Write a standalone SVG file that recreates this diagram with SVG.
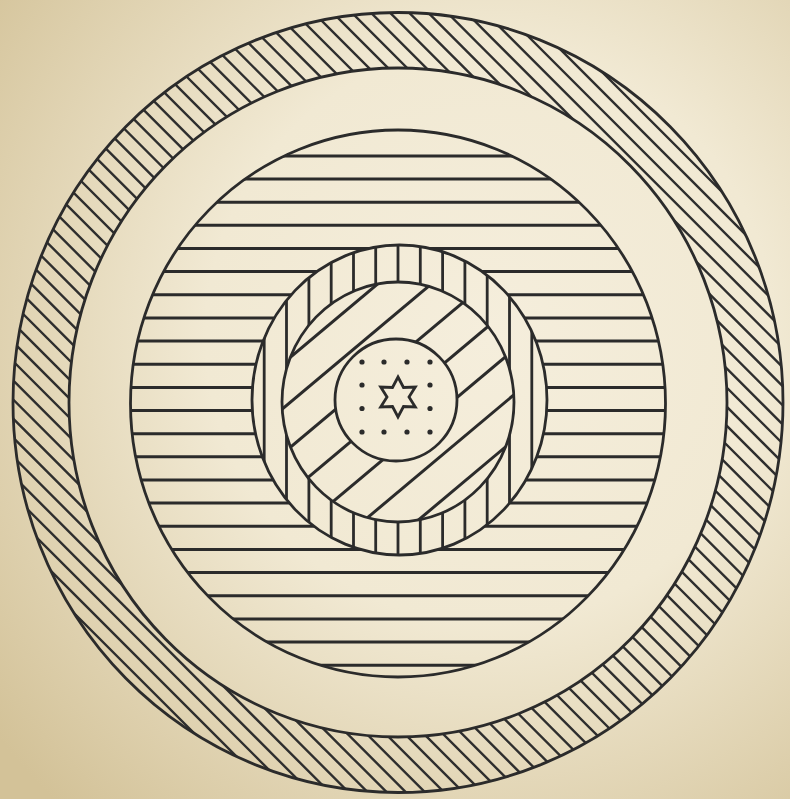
<svg xmlns="http://www.w3.org/2000/svg" width="790" height="799" viewBox="0 0 790 799">
<defs>
<radialGradient id="bg" cx="0.62" cy="0.42" r="0.8">
<stop offset="0" stop-color="#f5eedc"/>
<stop offset="0.45" stop-color="#f1e9d3"/>
<stop offset="1" stop-color="#d3c298"/>
</radialGradient>
<mask id="maskOuterRing" maskUnits="userSpaceOnUse" x="0" y="0" width="790" height="799">
<ellipse cx="398" cy="402.5" rx="385" ry="390" fill="#fff"/>
<ellipse cx="398" cy="402.5" rx="329" ry="334.5" fill="#000"/>
</mask>
<mask id="maskHoriz" maskUnits="userSpaceOnUse" x="0" y="0" width="790" height="799">
<ellipse cx="398" cy="403.5" rx="267.5" ry="273.5" fill="#fff"/>
<ellipse cx="399.5" cy="400" rx="147.5" ry="155" fill="#000"/>
</mask>
<mask id="maskVert" maskUnits="userSpaceOnUse" x="0" y="0" width="790" height="799">
<ellipse cx="399.5" cy="400" rx="147.5" ry="155" fill="#fff"/>
<ellipse cx="398" cy="402" rx="116" ry="120" fill="#000"/>
</mask>
<mask id="maskDiag" maskUnits="userSpaceOnUse" x="0" y="0" width="790" height="799">
<ellipse cx="398" cy="402" rx="116" ry="120" fill="#fff"/>
<circle cx="396" cy="400" r="61" fill="#000"/>
</mask>
<style>
.edge{fill:none;stroke:#2b2b2b;stroke-width:2.8}
.hatch{fill:none;stroke:#2e2e2e;stroke-width:2.4}
.h{stroke:#2b2b2b;stroke-width:3}
.v{stroke:#2b2b2b;stroke-width:2.8}
.d{stroke:#2b2b2b;stroke-width:3}
.dot{fill:#2b2b2b}
</style>
</defs>
<rect width="790" height="799" fill="url(#bg)"/>

<g id="outer-ring">
<g mask="url(#maskOuterRing)">
<path class="hatch" transform="translate(398,402.5) rotate(45)" d="M-420,-391.5h840M-420,-378h840M-420,-364.5h840M-420,-351h840M-420,-337.5h840M-420,-324h840M-420,-310.5h840M-420,-297h840M-420,-283.5h840M-420,-270h840M-420,-256.5h840M-420,-243h840M-420,-229.5h840M-420,-216h840M-420,-202.5h840M-420,-189h840M-420,-175.5h840M-420,-162h840M-420,-148.5h840M-420,-135h840M-420,-121.5h840M-420,-108h840M-420,-94.5h840M-420,-81h840M-420,-67.5h840M-420,-54h840M-420,-40.5h840M-420,-27h840M-420,-13.5h840M-420,0h840M-420,13.5h840M-420,27h840M-420,40.5h840M-420,54h840M-420,67.5h840M-420,81h840M-420,94.5h840M-420,108h840M-420,121.5h840M-420,135h840M-420,148.5h840M-420,162h840M-420,175.5h840M-420,189h840M-420,202.5h840M-420,216h840M-420,229.5h840M-420,243h840M-420,256.5h840M-420,270h840M-420,283.5h840M-420,297h840M-420,310.5h840M-420,324h840M-420,337.5h840M-420,351h840M-420,364.5h840M-420,378h840M-420,391.5h840"/>
</g>
<ellipse class="edge" cx="398" cy="402.5" rx="385" ry="390"/>
<ellipse class="edge" cx="398" cy="402.5" rx="329" ry="334.5"/>
</g>

<g id="horizontal-disc">
<g mask="url(#maskHoriz)">
<line class="h" x1="120" x2="680" y1="665.2" y2="665.2"/>
<line class="h" x1="120" x2="680" y1="642" y2="642"/>
<line class="h" x1="120" x2="680" y1="618.9" y2="618.9"/>
<line class="h" x1="120" x2="680" y1="595.7" y2="595.7"/>
<line class="h" x1="120" x2="680" y1="572.6" y2="572.6"/>
<line class="h" x1="120" x2="680" y1="549.4" y2="549.4"/>
<line class="h" x1="120" x2="680" y1="526.3" y2="526.3"/>
<line class="h" x1="120" x2="680" y1="503.1" y2="503.1"/>
<line class="h" x1="120" x2="680" y1="480" y2="480"/>
<line class="h" x1="120" x2="680" y1="456.8" y2="456.8"/>
<line class="h" x1="120" x2="680" y1="433.7" y2="433.7"/>
<line class="h" x1="120" x2="680" y1="410.5" y2="410.5"/>
<line class="h" x1="120" x2="680" y1="387.4" y2="387.4"/>
<line class="h" x1="120" x2="680" y1="364.2" y2="364.2"/>
<line class="h" x1="120" x2="680" y1="341.1" y2="341.1"/>
<line class="h" x1="120" x2="680" y1="317.9" y2="317.9"/>
<line class="h" x1="120" x2="680" y1="294.8" y2="294.8"/>
<line class="h" x1="120" x2="680" y1="271.6" y2="271.6"/>
<line class="h" x1="120" x2="680" y1="248.5" y2="248.5"/>
<line class="h" x1="120" x2="680" y1="225.3" y2="225.3"/>
<line class="h" x1="120" x2="680" y1="202.2" y2="202.2"/>
<line class="h" x1="120" x2="680" y1="179" y2="179"/>
<line class="h" x1="120" x2="680" y1="155.9" y2="155.9"/>
</g>
<ellipse class="edge" cx="398" cy="403.5" rx="267.5" ry="273.5"/>
</g>

<g id="vertical-ring">
<g mask="url(#maskVert)">
<line class="v" x1="264.2" x2="264.2" y1="230" y2="570"/>
<line class="v" x1="286.5" x2="286.5" y1="230" y2="570"/>
<line class="v" x1="308.9" x2="308.9" y1="230" y2="570"/>
<line class="v" x1="331.2" x2="331.2" y1="230" y2="570"/>
<line class="v" x1="353.5" x2="353.5" y1="230" y2="570"/>
<line class="v" x1="375.7" x2="375.7" y1="230" y2="570"/>
<line class="v" x1="398" x2="398" y1="230" y2="570"/>
<line class="v" x1="420.3" x2="420.3" y1="230" y2="570"/>
<line class="v" x1="442.6" x2="442.6" y1="230" y2="570"/>
<line class="v" x1="464.9" x2="464.9" y1="230" y2="570"/>
<line class="v" x1="487.2" x2="487.2" y1="230" y2="570"/>
<line class="v" x1="509.5" x2="509.5" y1="230" y2="570"/>
<line class="v" x1="531.8" x2="531.8" y1="230" y2="570"/>
</g>
<ellipse class="edge" cx="399.5" cy="400" rx="147.5" ry="155"/>
</g>

<g id="diagonal-disc">
<g mask="url(#maskDiag)">
<g transform="translate(398,402) rotate(-40)">
<line class="d" x1="-170" x2="170" y1="-138" y2="-138"/>
<line class="d" x1="-170" x2="170" y1="-103.5" y2="-103.5"/>
<line class="d" x1="-170" x2="170" y1="-69" y2="-69"/>
<line class="d" x1="-170" x2="170" y1="-34.5" y2="-34.5"/>
<line class="d" x1="-170" x2="170" y1="0" y2="0"/>
<line class="d" x1="-170" x2="170" y1="34.5" y2="34.5"/>
<line class="d" x1="-170" x2="170" y1="69" y2="69"/>
<line class="d" x1="-170" x2="170" y1="103.5" y2="103.5"/>
<line class="d" x1="-170" x2="170" y1="138" y2="138"/>
</g>
</g>
<ellipse class="edge" cx="398" cy="402" rx="116" ry="120"/>
</g>

<g id="core">
<circle class="edge" cx="396" cy="400" r="61"/>
<circle class="dot" cx="362" cy="362" r="2.6"/>
<circle class="dot" cx="384" cy="362" r="2.6"/>
<circle class="dot" cx="407" cy="362" r="2.6"/>
<circle class="dot" cx="430" cy="362" r="2.6"/>
<circle class="dot" cx="362" cy="385" r="2.6"/>
<circle class="dot" cx="430" cy="385" r="2.6"/>
<circle class="dot" cx="362" cy="408.5" r="2.6"/>
<circle class="dot" cx="430" cy="408.5" r="2.6"/>
<circle class="dot" cx="362" cy="432" r="2.6"/>
<circle class="dot" cx="384" cy="432" r="2.6"/>
<circle class="dot" cx="407" cy="432" r="2.6"/>
<circle class="dot" cx="430" cy="432" r="2.6"/>
<path class="edge" stroke-width="2.6" stroke-linejoin="miter" d="M398,377 L403.5,387.5 L415.3,387 L409,397 L415.3,407 L403.5,406.5 L398,417 L392.5,406.5 L380.7,407 L387,397 L380.7,387 L392.5,387.5 Z"/>
</g>
</svg>
